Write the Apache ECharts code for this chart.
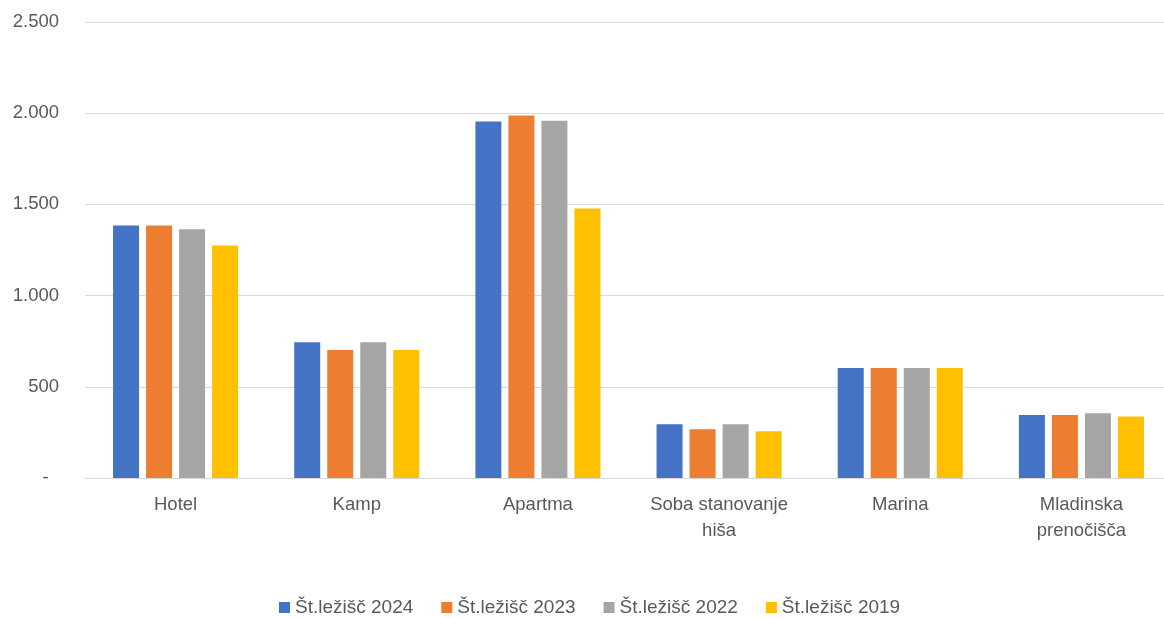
<!DOCTYPE html>
<html>
<head>
<meta charset="utf-8">
<script src="https://cdn.jsdelivr.net/npm/echarts@6/dist/echarts.min.js"></script>
<style>html,body{margin:0;padding:0;background:#fff;}#c{width:1164px;height:619px;}</style>
</head>
<body>
<div id="c"></div>
<script>
const categories = ['Hotel', 'Kamp', 'Apartma', 'Soba stanovanje\nhiša', 'Marina', 'Mladinska\nprenočišča'];
const seriesNames = ['Št.ležišč 2024', 'Št.ležišč 2023', 'Št.ležišč 2022', 'Št.ležišč 2019'];
const values2024 = [1385, 744, 1955, 295, 603, 346];
const values2023 = [1385, 702, 1988, 267, 603, 346];
const values2022 = [1364, 744, 1958, 295, 603, 355];
const values2019 = [1274, 702, 1477, 256, 603, 337];
const yTicks = [0, 500, 1000, 1500, 2000, 2500];
const colors = ['#4472C4', '#ED7D31', '#A5A5A5', '#FFC000'];

const FONT = 'Liberation Sans';
const TEXT = '#595959';
const allValues = [values2024, values2023, values2022, values2019];

const chart = echarts.init(document.getElementById('c'), null, {renderer: 'canvas'});
chart.setOption({
  animation: false,
  color: colors,
  grid: {left: 85, width: 1087, top: 22, bottom: 141, containLabel: false, outerBoundsMode: 'none'},
  legend: {
    data: seriesNames,
    left: 279,
    top: 598,
    padding: 0,
    icon: 'rect',
    itemWidth: 11,
    itemHeight: 11,
    itemGap: 28,
    textStyle: {fontFamily: FONT, fontSize: 19, color: TEXT}
  },
  xAxis: {
    type: 'category',
    data: categories,
    axisLine: {show: true, lineStyle: {color: '#D9D9D9', width: 1}},
    axisTick: {show: false},
    axisLabel: {
      interval: 0,
      margin: 14,
      fontFamily: FONT,
      fontSize: 18.5,
      lineHeight: 26,
      color: TEXT
    }
  },
  yAxis: {
    type: 'value',
    min: yTicks[0],
    max: yTicks[yTicks.length - 1],
    interval: yTicks[1] - yTicks[0],
    axisLine: {show: false},
    axisTick: {show: false},
    splitLine: {lineStyle: {color: '#D9D9D9', width: 1}},
    axisLabel: {
      margin: 26,
      fontFamily: FONT,
      fontSize: 18.5,
      color: TEXT,
      formatter: function (v) {
        if (v === 0) return '-  ';
        return String(v).replace(/\B(?=(\d{3})+(?!\d))/g, '.');
      }
    }
  },
  series: seriesNames.map(function (name, i) {
    return {
      name: name,
      type: 'bar',
      data: allValues[i],
      barWidth: 26,
      barGap: '27%',
      itemStyle: {color: colors[i]}
    };
  })
});
</script>
</body>
</html>
